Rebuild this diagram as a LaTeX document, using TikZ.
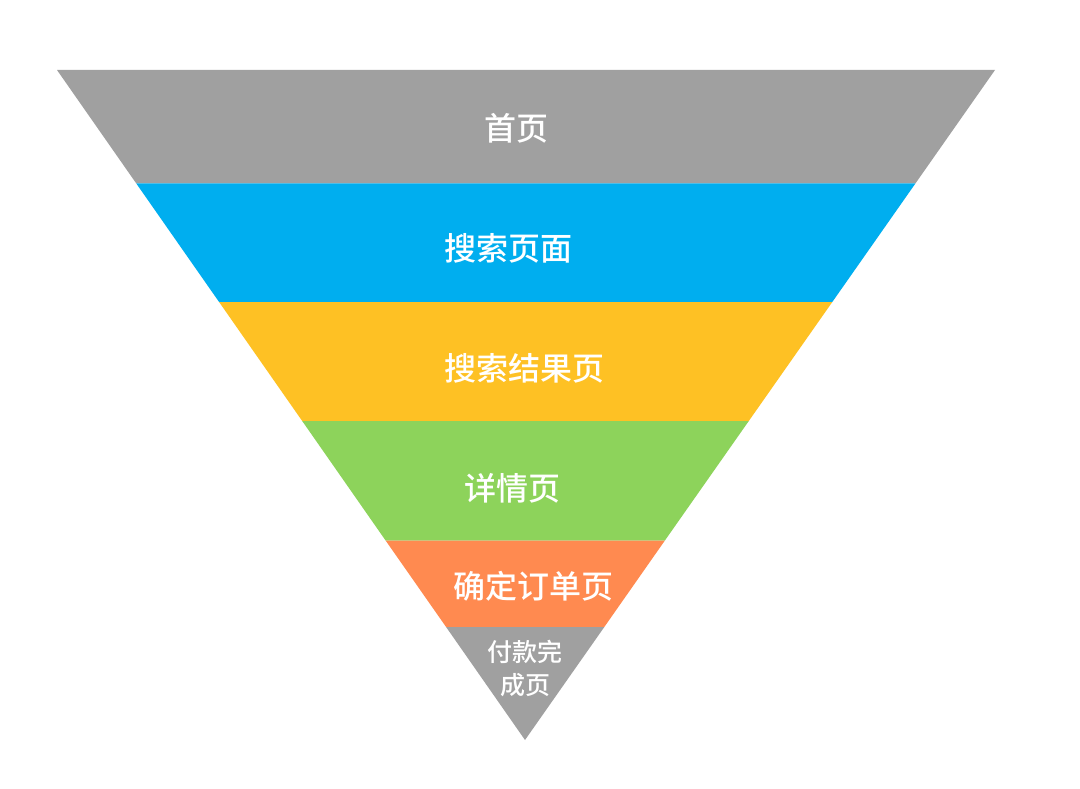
\documentclass[tikz,border=0pt]{standalone}
\usepackage{fontspec}
\newfontfamily\cjk{Noto Sans CJK SC Medium}
\definecolor{fgray}{HTML}{A0A0A0}
\definecolor{fblue}{HTML}{00AEEF}
\definecolor{fyellow}{HTML}{FEC124}
\definecolor{fgreen}{HTML}{8DD35B}
\definecolor{forange}{HTML}{FF8A50}
\begin{document}
\begin{tikzpicture}[x=1pt,y=-1pt,
  band/.style={draw=none},
  biglabel/.style={text=white,font=\cjk\fontsize{32}{36}\selectfont,inner sep=0pt},
  smalllabel/.style={text=white,font=\cjk\fontsize{25}{33}\selectfont,inner sep=0pt,align=center}]
\useasboundingbox (0,0) rectangle (1080,789);
\fill[white] (0,0) rectangle (1080,789);
\fill[fgray]   (57,70) -- (995,70) -- (915.4,183.5) -- (136.3,183.5) -- cycle;
\fill[fblue]   (136.3,183.5) -- (915.4,183.5) -- (832.3,302) -- (219.1,302) -- cycle;
\fill[fyellow] (219.1,302) -- (832.3,302) -- (748.8,421) -- (302.2,421) -- cycle;
\fill[fgreen]  (302.2,421) -- (748.8,421) -- (664.9,540.5) -- (385.6,540.5) -- cycle;
\fill[forange] (385.6,540.5) -- (664.9,540.5) -- (604.3,627) -- (446.1,627) -- cycle;
\fill[fgray]   (446.1,627) -- (604.3,627) -- (525,740) -- cycle;
\node[biglabel] (l1) at (516,128) {首页};
\node[biglabel] (l2) at (508,248) {搜索页面};
\node[biglabel] (l3) at (524.5,368) {搜索结果页};
\node[biglabel] (l4) at (512,488) {详情页};
\node[biglabel] (l5) at (533,586) {确定订单页};
\node[smalllabel] (l6) at (525,668) {付款完\\成页};
\end{tikzpicture}
\end{document}
